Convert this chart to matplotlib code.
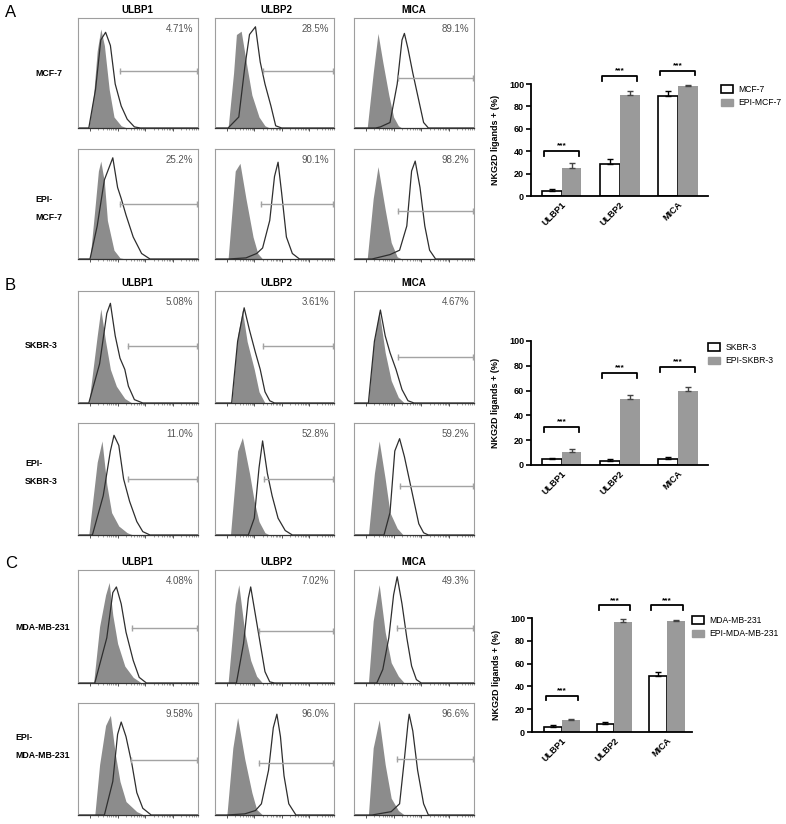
import matplotlib.pyplot as plt
from matplotlib.patches import Patch
import numpy as np

plt.rcParams['font.family'] = ['Liberation Sans', 'DejaVu Sans']

W, H = 786, 824

markers = ['ULBP1', 'ULBP2', 'MICA']

# flow histograms: (channel %, height %)
# isotype = filled grey, stain = open line
mcf7_iso = [
    [(9, 0), (13, 30), (16, 70), (19, 90), (22, 75), (26, 35), (30, 10), (36, 2), (41, 0)],
    [(11, 0), (15.6, 50), (18, 85), (22, 88), (27, 55), (31, 30), (37, 10), (42, 2), (46, 0)],
    [(11, 0), (16, 50), (20, 86), (24, 60), (29, 30), (33, 10), (37, 2), (40, 0)],
]
mcf7_stain = [
    [(9, 0), (14.6, 35), (19, 80), (23, 87), (27, 75), (31, 40), (36, 20), (41, 8), (47, 1), (52, 0)],
    [(11, 0), (20, 10), (25, 55), (29, 85), (34, 92), (38, 60), (42, 40), (47, 20), (51, 2), (56, 0)],
    [(18, 0), (22, 1), (30, 5), (36, 40), (40, 80), (42, 86), (45, 72), (49, 50), (54, 25), (58, 5), (62, 0)],
]
mcf7_gate = [(35, 52), (40, 52), (37, 45)]
mcf7_pct = ['4.71%', '28.5%', '89.1%']

epi_mcf7_iso = [
    [(10, 0), (14, 45), (17, 80), (19, 89), (22, 70), (24.5, 35), (30, 8), (35, 1), (40, 0)],
    [(11, 0), (14, 40), (17, 80), (21, 87), (26, 55), (32, 20), (36, 5), (40, 0)],
    [(11, 0), (16, 55), (20, 84), (26, 45), (31, 15), (36, 2), (40, 0)],
]
epi_mcf7_stain = [
    [(10, 0), (16, 30), (22, 72), (29, 92), (33, 65), (36, 55), (40, 40), (46, 20), (53, 5), (60, 0)],
    [(11, 0), (26, 1), (35, 5), (40, 10), (46, 35), (50, 75), (53, 88), (56, 60), (60, 20), (65, 5), (71, 0)],
    [(15, 0), (30, 4), (38, 8), (44, 30), (48, 80), (51, 89), (55, 65), (59, 30), (63, 8), (68, 0)],
]
epi_mcf7_gate = [(35, 50), (39, 50), (37, 44)]
epi_mcf7_pct = ['25.2%', '90.1%', '98.2%']

skbr3_iso = [
    [(9, 0), (16, 60), (19, 84), (23, 55), (27, 30), (32, 15), (39, 4), (45, 0)],
    [(14, 0), (19, 60), (23, 83), (27, 55), (33, 30), (37, 10), (42, 0)],
    [(12, 0), (16, 50), (21, 82), (26, 45), (31, 20), (37, 5), (42, 0)],
]
skbr3_stain = [
    [(9, 0), (18, 35), (24, 80), (27, 89), (31, 60), (35, 40), (39, 30), (42, 15), (47, 3), (54, 0)],
    [(14, 0), (19, 55), (24.5, 85), (29, 65), (34, 45), (38, 30), (42, 10), (46, 2), (50, 0)],
    [(12, 0), (17, 55), (22, 83), (26, 60), (30, 45), (35, 30), (40, 12), (45, 2), (50, 0)],
]
skbr3_gate = [(42, 51), (40, 51), (37, 41)]
skbr3_pct = ['5.08%', '3.61%', '4.67%']

epi_skbr3_iso = [
    [(9, 0), (16, 65), (20, 84), (24, 45), (28, 20), (34, 8), (41, 2), (46, 0)],
    [(13, 0), (19, 75), (23, 87), (29, 55), (33, 30), (37, 12), (42, 2), (46, 0)],
    [(12, 0), (17, 55), (21, 84), (26, 50), (30, 20), (36, 6), (41, 0)],
]
epi_skbr3_stain = [
    [(12, 0), (21, 35), (27, 75), (30, 89), (34, 80), (38, 50), (43, 30), (49, 12), (54, 3), (60, 0)],
    [(28, 0), (33, 15), (37, 60), (40, 84), (44, 55), (48, 35), (53, 15), (59, 4), (65, 0)],
    [(25, 0), (30, 20), (34, 75), (38, 86), (42, 70), (45, 55), (50, 30), (54, 10), (58, 2), (62, 0)],
]
epi_skbr3_gate = [(42, 50), (41, 50), (38, 44)]
epi_skbr3_pct = ['11.0%', '52.8%', '59.2%']

mda_iso = [
    [(13, 0), (18, 50), (23, 78), (26, 89), (29, 60), (33, 35), (39, 15), (46, 5), (53, 0)],
    [(11, 0), (17, 70), (20, 87), (25, 45), (30, 20), (35, 6), (40, 0)],
    [(12, 0), (16, 55), (21, 87), (26, 45), (31, 18), (37, 6), (42, 0)],
]
mda_stain = [
    [(14, 0), (24, 40), (29, 80), (32, 85), (36, 70), (40, 45), (46, 20), (51, 5), (57, 0)],
    [(18, 0), (24, 35), (28, 75), (30, 85), (34, 60), (38, 35), (42, 10), (46, 1), (50, 0)],
    [(19, 0), (24, 12), (29, 40), (33, 78), (36, 94), (40, 70), (44, 40), (48, 15), (52, 3), (56, 0)],
]
mda_gate = [(45, 49), (37, 46), (36, 49)]
mda_pct = ['4.08%', '7.02%', '49.3%']

epi_mda_iso = [
    [(14, 0), (18, 45), (23, 80), (27, 89), (31, 55), (35, 30), (40, 12), (49, 3), (55, 0)],
    [(10, 0), (15, 60), (19, 87), (25, 50), (31, 20), (35, 5), (40, 0)],
    [(12, 0), (16, 60), (21, 85), (26, 45), (31, 15), (37, 4), (42, 0)],
]
epi_mda_stain = [
    [(22, 0), (29, 30), (33, 72), (36, 83), (40, 70), (45, 45), (49, 20), (54, 6), (61, 0)],
    [(10, 0), (25, 1), (34, 4), (39, 10), (45, 40), (49, 78), (52, 90), (55, 70), (58, 35), (62, 10), (68, 0)],
    [(15, 0), (31, 3), (38, 10), (42, 50), (45, 82), (46, 90), (49, 75), (53, 40), (58, 10), (62, 0)],
]
epi_mda_gate = [(44, 49), (37, 46), (36, 50)]
epi_mda_pct = ['9.58%', '96.0%', '96.6%']

# bar charts: % NKG2D ligand positive cells
ligands = ['ULBP1', 'ULBP2', 'MICA']
mcf7_mean = [4.5, 28.6, 89.5]
mcf7_err = [1.8, 4, 4]
epi_mcf7_mean = [25.3, 90.5, 98.5]
epi_mcf7_err = [4.4, 3, 1]
mcf7_sig = [40, 107, 112]

skbr3_mean = [4.6, 3.5, 4.6]
skbr3_err = [1.3, 1.3, 1.6]
epi_skbr3_mean = [10.8, 53, 59.7]
epi_skbr3_err = [1.8, 3.5, 3]
skbr3_sig = [30.5, 74, 79]

mda_mean = [4.4, 7.4, 49.4]
mda_err = [1.5, 1.5, 3.5]
epi_mda_mean = [10.3, 96.5, 97]
epi_mda_err = [0.9, 2.5, 1.5]
mda_sig = [32, 111, 111]

fig = plt.figure(figsize=(W / 100, H / 100), dpi=100)


def rect(x0, y0, x1, y1):
    return [x0 / W, 1 - y1 / H, (x1 - x0) / W, (y1 - y0) / H]


def ftext(x, y, s, **kw):
    fig.text(x / W, 1 - y / H, s, **kw)


def curve(pts):
    pts = [(0, 0)] + pts + [(100, 0)]
    return np.array([p[0] for p in pts]) / 100, np.array([p[1] for p in pts]) / 100


# log-decade style ticks under each histogram
major = np.array([0.1, 0.33, 0.56, 0.79])
minor = np.concatenate([d + 0.23 * np.log10(np.arange(2, 10)) for d in major])
minor = minor[minor < 1]


def draw_hist(r, iso, stain, gate, pct):
    ax = fig.add_axes(r)
    x, y = curve(iso)
    ax.fill_between(x, y, color='#8c8c8c', lw=0)
    x, y = curve(stain)
    ax.plot(x, y, color='#2e2e2e', lw=0.9)
    gx, gy = gate
    ax.plot([gx / 100, 0.995], [gy / 100, gy / 100], color='#a3a3a3', lw=1.0,
            marker='|', ms=4, mew=1.0, clip_on=False)
    ax.text(0.96, 0.9, pct, transform=ax.transAxes, ha='right', va='center',
            fontsize=7, color='#555555')
    ax.set_xlim(0, 1)
    ax.set_ylim(0, 1)
    ax.set_yticks([])
    ax.set_xticks(major)
    ax.set_xticks(minor, minor=True)
    ax.set_xticklabels([])
    ax.tick_params(axis='x', which='major', length=2.5, width=0.7, color='#555555')
    ax.tick_params(axis='x', which='minor', length=1.5, width=0.5, color='#777777')
    for s in ['top', 'left', 'right']:
        ax.spines[s].set_color('#9e9e9e')
        ax.spines[s].set_linewidth(0.8)
    ax.spines['bottom'].set_color('#333333')
    ax.spines['bottom'].set_linewidth(0.9)


def draw_bars(r, xlim, ctrl, ctrl_err, epi, epi_err, sig, names, leg_xy):
    ax = fig.add_axes(r)
    pos = np.arange(len(ligands))
    w = 0.34
    ax.bar(pos - w / 2, ctrl, w, color='white', edgecolor='black', lw=1.2,
           yerr=[np.zeros(3), ctrl_err], capsize=2.5, error_kw=dict(lw=1, capthick=1))
    ax.bar(pos + w / 2, epi, w, color='#9a9a9a', edgecolor='#9a9a9a', lw=0,
           yerr=[np.zeros(3), epi_err], capsize=2.5,
           error_kw=dict(lw=1, capthick=1, ecolor='#444444'))
    for p, s in zip(pos, sig):
        ax.plot([p - 0.3, p - 0.3, p + 0.3, p + 0.3], [s - 4, s, s, s - 4],
                color='black', lw=1.3, clip_on=False)
        ax.text(p, s + 1.5, '***', ha='center', va='bottom', fontsize=6,
                fontweight='bold', clip_on=False)
    ax.set_xlim(*xlim)
    ax.set_ylim(0, 100)
    ax.set_yticks([0, 20, 40, 60, 80, 100])
    ax.set_xticks(pos)
    ax.set_xticklabels(ligands, rotation=45, ha='right', rotation_mode='anchor',
                       fontsize=6.5, fontweight='bold')
    for lab in ax.get_yticklabels():
        lab.set_fontweight('bold')
        lab.set_fontsize(6.5)
    ax.tick_params(axis='y', length=3.5, width=1.2, pad=1.5)
    ax.tick_params(axis='x', length=0, pad=3)
    for s in ['top', 'right']:
        ax.spines[s].set_visible(False)
    for s in ['left', 'bottom']:
        ax.spines[s].set_linewidth(1.3)
    ax.set_ylabel('NKG2D ligands + (%)', fontsize=6.5, fontweight='bold')
    axw = r[2] * W
    ax.yaxis.set_label_coords(-31 / axw, 0.5)
    handles = [Patch(facecolor='white', edgecolor='black', lw=1.2, label=names[0]),
               Patch(facecolor='#9a9a9a', edgecolor='#9a9a9a', label=names[1])]
    ax.legend(handles=handles, loc='upper left',
              bbox_to_anchor=(leg_xy[0] / W, 1 - leg_xy[1] / H),
              bbox_transform=fig.transFigure, frameon=False, fontsize=6.2,
              handlelength=1.4, handleheight=0.95, handletextpad=0.6,
              borderpad=0, labelspacing=0.5, borderaxespad=0)


cols = [(78, 198), (215, 334), (354, 474)]
col_mid = [137, 276, 414]

panels = [
    ('A', 5, [(18, 128), (149, 259)],
     [(mcf7_iso, mcf7_stain, mcf7_gate, mcf7_pct),
      (epi_mcf7_iso, epi_mcf7_stain, epi_mcf7_gate, epi_mcf7_pct)],
     [[(35, 74, 'MCF-7')], [(35, 199, 'EPI-'), (35, 217, 'MCF-7')]]),
    ('B', 278, [(291, 403), (423, 535)],
     [(skbr3_iso, skbr3_stain, skbr3_gate, skbr3_pct),
      (epi_skbr3_iso, epi_skbr3_stain, epi_skbr3_gate, epi_skbr3_pct)],
     [[(25, 346, 'SKBR-3')], [(25, 463, 'EPI-'), (25, 481, 'SKBR-3')]]),
    ('C', 556, [(570, 683), (703, 815)],
     [(mda_iso, mda_stain, mda_gate, mda_pct),
      (epi_mda_iso, epi_mda_stain, epi_mda_gate, epi_mda_pct)],
     [[(15, 627, 'MDA-MB-231')], [(15, 738, 'EPI-'), (15, 755, 'MDA-MB-231')]]),
]

for letter, ytop, rows, data, labels in panels:
    ftext(5, ytop, letter, fontsize=12, va='top', ha='left')
    for c, m in enumerate(markers):
        ftext(col_mid[c], rows[0][0] - 8, m, fontsize=7, fontweight='bold',
              ha='center', va='center')
    for (y0, y1), (iso, stain, gate, pct), labs in zip(rows, data, labels):
        for c, (x0, x1) in enumerate(cols):
            draw_hist(rect(x0, y0, x1, y1), iso[c], stain[c], gate[c], pct[c])
        for lx, ly, s in labs:
            ftext(lx, ly, s, fontsize=6.3, fontweight='bold', ha='left', va='center')

draw_bars(rect(531, 84, 708, 196), (-0.53, 2.52), mcf7_mean, mcf7_err,
          epi_mcf7_mean, epi_mcf7_err, mcf7_sig, ['MCF-7', 'EPI-MCF-7'], (721, 85))
draw_bars(rect(531, 341, 708, 465), (-0.53, 2.52), skbr3_mean, skbr3_err,
          epi_skbr3_mean, epi_skbr3_err, skbr3_sig, ['SKBR-3', 'EPI-SKBR-3'], (708, 343))
draw_bars(rect(532, 618, 692, 732), (-0.57, 2.48), mda_mean, mda_err,
          epi_mda_mean, epi_mda_err, mda_sig, ['MDA-MB-231', 'EPI-MDA-MB-231'], (692, 616))

fig.savefig('out.png', dpi=100)
